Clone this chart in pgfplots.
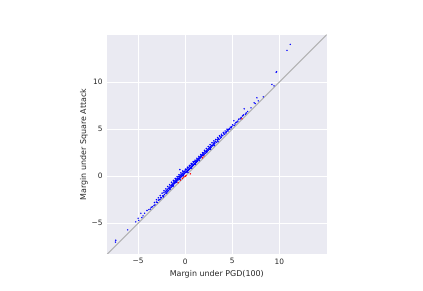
\documentclass[border=0pt]{standalone}
\usepackage{fontspec}
\setmainfont{DejaVu Sans}
\usepackage{pgfplots}
\pgfplotsset{compat=1.18}
\definecolor{bgc}{HTML}{EAEAF2}
\definecolor{txt}{HTML}{262626}
\begin{document}
\begin{tikzpicture}[x=1pt,y=1pt]
\path[use as bounding box] (-107,-37) rectangle (316,254);
\begin{axis}[
  at={(0,0)},anchor=south west,
  scale only axis,width=219.7pt,height=219pt,
  xmin=-8.3,xmax=15.04,ymin=-8.27,ymax=15,
  axis background/.style={fill=bgc},
  axis line style={draw=none},
  grid=major,grid style={white,line width=0.8pt},
  major tick length=0pt,
  xtick={-5,0,5,10},ytick={-5,0,5,10},
  xticklabels={−5,0,5,10},yticklabels={−5,0,5,10},
  tick label style={font=\fontsize{7.4}{8}\selectfont,text=txt},
  label style={font=\fontsize{7.95}{9}\selectfont,text=txt},
  xlabel={Margin under PGD(100)},ylabel={Margin under Square Attack},
  xticklabel style={yshift=-1pt},yticklabel style={xshift=-1pt},
  xlabel style={yshift=1pt},ylabel style={yshift=-3pt},
  clip=true,
]
\addplot[draw=black!30,line width=1.1pt] coordinates {(-8.3,-8.3) (15.04,15.04)};
\addplot[only marks,mark=*,mark size=0.5pt,red,mark options={draw=none,fill=red,fill opacity=0.4}] coordinates {
(-0.75,-0.7)(-0.5,-0.42)(-0.3,-0.25)(-0.2,-0.1)(0,-0.02)(0.1,0.05)(0.55,0.25)(1.85,1.95)(2.0,2.15)(6.03,6.09)
};
\addplot[only marks,mark=*,mark size=0.5pt,blue,mark options={draw=none,fill=blue,fill opacity=0.3}] coordinates {
(11.17,14.0)(10.82,13.36)(9.72,11.1)(9.22,9.75)(9.44,9.6)(8.3,8.43)(7.63,8.33)(7.77,8.0)(7.34,7.8)(7.45,7.7)(7.0,7.25)(6.28,7.16)(6.64,6.87)(5.18,5.88)
(-3.85,-3.55)(-4.05,-3.65)(-4.3,-3.94)(-4.47,-4.22)(-4.71,-3.94)(-4.93,-4.7)(-5.0,-4.47)(-5.24,-4.86)(-4.6,-4.4)(-6.1,-5.71)(-7.37,-6.81)(-7.4,-7.0)
};
\addplot[only marks,mark=*,mark size=0.55pt,blue,mark options={draw=none,fill=blue,fill opacity=0.45}] coordinates {
(9.68,11.05)(6.5,6.72)(6.4,6.6)(6.2,6.5)(6.1,6.4)(5.95,6.25)(5.85,6.1)(5.7,6.05)(5.6,5.85)(5.5,5.75)(5.4,5.7)(5.3,5.55)(5.2,5.4)(5.05,5.45)
(4.95,5.25)(4.9,5.15)(4.8,5.2)(4.75,5.0)(4.7,5.05)(4.6,4.95)(4.55,4.8)(4.5,4.9)(4.4,4.75)(4.35,4.6)(4.25,4.6)(4.2,4.45)(4.1,4.5)(4.0,4.3)(3.9,4.3)(3.85,4.15)(3.75,4.05)(3.7,4.2)(3.6,3.9)(3.55,4.0)(3.45,3.75)(3.4,3.9)(3.3,3.6)(3.25,3.7)(3.15,3.45)(3.1,3.6)(3.05,3.35)(3.0,3.5)
(2.95,3.25)(2.9,3.3)(2.85,3.2)(2.8,3.25)(2.75,3.05)(2.7,3.15)(2.65,2.95)(2.6,3.05)(2.55,2.85)(2.5,2.95)(2.45,2.75)(2.4,2.85)(2.35,2.65)(2.3,2.75)(2.25,2.6)(2.2,2.65)(2.15,2.45)(2.1,2.6)(2.05,2.35)(2.0,2.5)(1.95,2.25)(1.9,2.4)(1.85,2.2)(1.8,2.3)(1.75,2.05)(1.7,2.2)(1.65,1.95)(1.6,2.1)(1.55,1.85)(1.5,2.0)(1.45,1.8)(1.4,1.9)(1.35,1.65)(1.3,1.8)(1.25,1.55)(1.2,1.7)(1.15,1.45)(1.1,1.6)(1.05,1.35)(1.0,1.55)(0.95,1.25)(0.9,1.45)(0.85,1.15)(0.8,1.3)(0.75,1.05)(0.7,1.25)(0.65,0.95)(0.6,1.15)(0.55,0.85)(0.5,1.05)(0.45,0.75)(0.4,0.95)(0.35,0.65)(0.3,0.85)(0.25,0.55)(0.2,0.75)(0.15,0.45)(0.1,0.7)(0.05,0.4)(0,0.65)(-0.05,0.3)(-0.1,0.5)(-0.15,0.2)(-0.2,0.45)(-0.25,0.1)(-0.3,0.3)(-0.35,0.0)(-0.4,0.2)(-0.45,-0.1)(-0.5,0.1)(-0.56,0.7)(-0.55,-0.2)(-0.6,0.0)(-0.65,-0.3)(-0.7,-0.05)(-0.75,-0.4)(-0.8,-0.2)(-0.85,-0.5)(-0.9,-0.3)(-0.95,-0.6)(-1.0,-0.4)(-1.05,-0.7)(-1.1,-0.5)(-1.15,-0.8)(-1.2,-0.6)(-1.25,-0.95)(-1.3,-0.75)(-1.35,-1.05)(-1.4,-0.85)(-1.45,-1.15)(-1.5,-1.0)(-1.55,-1.25)(-1.6,-1.05)(-1.65,-1.35)(-1.7,-1.2)(-1.75,-1.5)(-1.8,-1.3)(-1.85,-1.6)(-1.9,-1.45)(-1.95,-1.7)(-2.0,-1.55)(-2.05,-1.8)(-2.1,-1.65)(-2.2,-1.95)(-2.25,-1.75)(-2.3,-2.1)(-2.4,-2.1)(-2.5,-2.3)(-2.6,-2.25)(-2.65,-2.45)(-2.75,-2.5)(-2.85,-2.55)(-2.95,-2.8)(-3.05,-2.75)(-3.2,-3.05)(-3.3,-3.1)(-3.45,-3.25)
(0.0,0.4)(0.1,0.45)(0.2,0.55)(0.3,0.6)(0.4,0.7)(0.5,0.8)(0.6,0.9)(0.7,1.0)(0.8,1.1)(0.9,1.2)(1.0,1.3)(1.1,1.4)(1.2,1.5)(1.3,1.6)(-0.1,0.3)(-0.2,0.2)(-0.3,0.1)(-0.4,0.0)(-0.5,-0.1)(-0.6,-0.2)(-0.7,-0.25)(-0.8,-0.35)(-0.9,-0.45)(-1.0,-0.55)(-1.1,-0.65)(-1.2,-0.75)(-1.3,-0.9)(-1.4,-1.0)
(0.05,0.75)(0.25,0.95)(0.45,1.15)(0.65,1.35)(0.85,1.55)(1.05,1.7)(1.25,1.9)(1.45,2.1)(1.65,2.3)(1.85,2.5)(2.05,2.75)(2.25,2.95)(2.45,3.15)(2.65,3.35)(2.85,3.55)(3.05,3.75)(3.25,3.9)(3.45,4.1)(3.65,4.3)(3.85,4.45)(4.05,4.65)(4.25,4.8)(4.45,5.0)
(-0.25,0.55)(-0.45,0.35)(-0.65,0.15)(-0.85,-0.05)(-1.05,-0.25)(-1.25,-0.45)(-1.45,-0.65)(-1.65,-0.9)(-1.85,-1.1)(-2.05,-1.35)(-2.25,-1.55)(-2.45,-1.8)(-2.65,-2.05)(-2.85,-2.3)(-3.05,-2.5)(-3.25,-2.8)
(-0.2,0.05)(-0.55,-0.35)(-0.9,-0.65)(-1.25,-1.05)(-1.6,-1.4)(-1.95,-1.8)(-2.3,-2.2)(0.3,0.4)(0.7,0.85)(1.1,1.25)(1.5,1.65)(2.3,2.5)(2.7,2.85)(3.1,3.25)(3.5,3.65)
(-3.6,-3.3)(-3.7,-3.5)
};
\end{axis}
\end{tikzpicture}
\end{document}
